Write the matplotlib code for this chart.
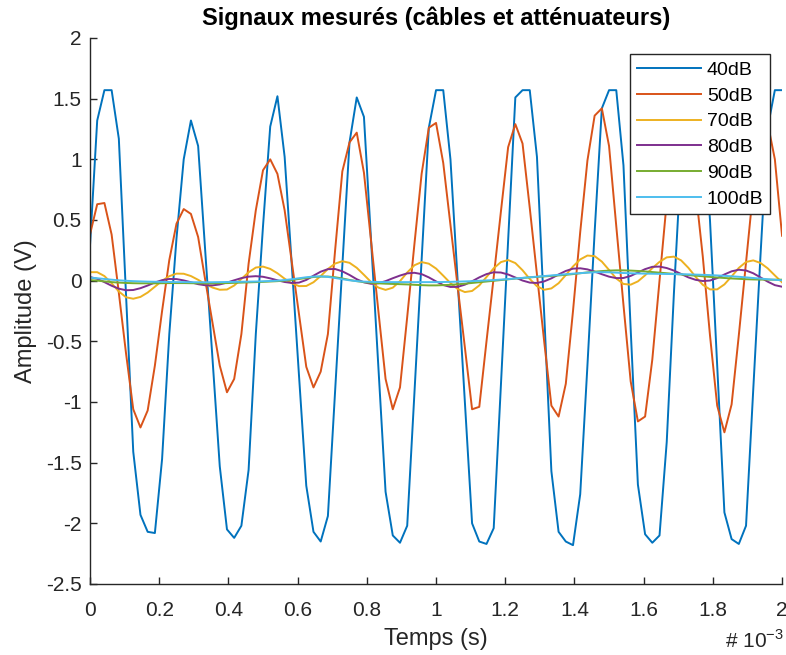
#!/usr/bin/env python3
"""
Signaux mesures a travers cables et attenuateurs (style MATLAB).
"""
import matplotlib
matplotlib.use("Agg")
import matplotlib.pyplot as plt
import numpy as np


FS = 48000  # frequence d'echantillonnage (Hz)

LABELS = ["40dB", "50dB", "70dB", "80dB", "90dB", "100dB"]
COLORS = ["#0072BD", "#D95319", "#EDB120", "#7E2F8E", "#77AC30", "#4DBEEE"]

amp_40db = [
    0.29, 1.32, 1.57, 1.57, 1.17, -0.12, -1.41, -1.93, -2.07, -2.08,
    -1.47, -0.44, 0.35, 1.00, 1.32, 1.11, 0.23, -0.65, -1.53, -2.05,
    -2.12, -2.02, -1.56, -0.44, 0.45, 1.27, 1.52, 1.02, 0.12, -0.79,
    -1.69, -2.07, -2.15, -1.94, -0.91, 0.12, 1.14, 1.51, 1.35, 0.32,
    -0.71, -1.74, -2.10, -2.16, -2.02, -0.93, 0.17, 1.26, 1.57, 1.57,
    1.00, 0.00, -1.00, -2.00, -2.15, -2.17, -2.04, -0.86, 0.33, 1.51,
    1.57, 1.57, 1.02, -0.27, -1.57, -2.07, -2.15, -2.18, -1.76, -0.70,
    0.40, 1.42, 1.57, 1.57, 0.95, -0.40, -1.68, -2.09, -2.16, -2.10,
    -1.33, -0.10, 1.00, 1.57, 1.57, 1.35, 0.50, -0.70, -1.91, -2.13,
    -2.17, -2.02, -0.90, 0.20, 1.26, 1.57, 1.57,
]
amp_50db = [
    0.38, 0.63, 0.64, 0.38, -0.10, -0.60, -1.06, -1.21, -1.07, -0.70,
    -0.25, 0.17, 0.47, 0.59, 0.55, 0.36, 0.00, -0.35, -0.70, -0.92,
    -0.81, -0.44, 0.14, 0.58, 0.91, 1.00, 0.88, 0.58, 0.15, -0.28,
    -0.71, -0.88, -0.75, -0.44, 0.25, 0.90, 1.14, 1.22, 0.89, 0.32,
    -0.25, -0.81, -1.06, -0.88, -0.30, 0.30, 0.88, 1.26, 1.30, 0.97,
    0.46, -0.05, -0.55, -1.06, -1.04, -0.50, 0.03, 0.57, 1.10, 1.29,
    1.13, 0.60, 0.05, -0.50, -1.03, -1.12, -0.85, -0.25, 0.40, 0.99,
    1.36, 1.42, 1.11, 0.45, -0.20, -0.83, -1.16, -1.12, -0.65, 0.00,
    0.65, 1.10, 1.25, 1.15, 0.75, 0.20, -0.45, -1.03, -1.25, -1.02,
    -0.45, 0.15, 0.75, 1.20, 1.30, 1.00, 0.37,
]
amp_70db = [
    0.070, 0.070, 0.038, -0.022, -0.089, -0.137, -0.149, -0.134, -0.098, -0.050,
    -0.001, 0.037, 0.058, 0.057, 0.038, 0.007, -0.028, -0.057, -0.075, -0.073,
    -0.040, 0.014, 0.069, 0.108, 0.116, 0.097, 0.061, 0.016, -0.022, -0.045,
    -0.044, -0.013, 0.038, 0.096, 0.141, 0.160, 0.147, 0.106, 0.048, -0.012,
    -0.057, -0.076, -0.058, -0.004, 0.067, 0.127, 0.153, 0.140, 0.100, 0.041,
    -0.020, -0.069, -0.094, -0.085, -0.039, 0.030, 0.102, 0.153, 0.170, 0.145,
    0.086, 0.014, -0.046, -0.075, -0.064, -0.021, 0.046, 0.117, 0.175, 0.207,
    0.202, 0.157, 0.088, 0.018, -0.027, -0.033, -0.006, 0.044, 0.103, 0.155,
    0.192, 0.198, 0.167, 0.106, 0.032, -0.034, -0.072, -0.072, -0.031, 0.035,
    0.105, 0.154, 0.167, 0.146, 0.102, 0.043, -0.014,
]
amp_80db = [
    0.030, 0.015, -0.012, -0.042, -0.066, -0.079, -0.077, -0.062, -0.040, -0.015,
    0.004, 0.014, 0.013, 0.002, -0.013, -0.029, -0.038, -0.039, -0.031, -0.016,
    0.003, 0.021, 0.033, 0.037, 0.032, 0.019, 0.003, -0.011, -0.019, -0.016,
    0.006, 0.041, 0.074, 0.095, 0.096, 0.077, 0.047, 0.012, -0.014, -0.026,
    -0.021, -0.004, 0.020, 0.042, 0.060, 0.065, 0.054, 0.027, -0.006, -0.036,
    -0.052, -0.051, -0.033, -0.005, 0.027, 0.054, 0.069, 0.067, 0.051, 0.026,
    0.001, -0.016, -0.019, -0.006, 0.019, 0.051, 0.080, 0.099, 0.102, 0.093,
    0.075, 0.053, 0.033, 0.021, 0.022, 0.039, 0.067, 0.095, 0.114, 0.116,
    0.104, 0.083, 0.055, 0.027, 0.007, -0.003, 0.001, 0.021, 0.051, 0.077,
    0.090, 0.084, 0.061, 0.027, -0.008, -0.037, -0.050,
]
amp_90db = [
    0.005, 0.000, -0.006, -0.012, -0.016, -0.019, -0.021, -0.022, -0.022, -0.022,
    -0.021, -0.020, -0.020, -0.020, -0.021, -0.022, -0.022, -0.022, -0.021, -0.020,
    -0.018, -0.016, -0.014, -0.012, -0.010, -0.007, -0.004, 0.000, 0.006, 0.014,
    0.022, 0.030, 0.034, 0.034, 0.028, 0.018, 0.006, -0.004, -0.012, -0.018,
    -0.022, -0.025, -0.027, -0.029, -0.031, -0.034, -0.037, -0.039, -0.039, -0.037,
    -0.034, -0.030, -0.025, -0.019, -0.013, -0.007, -0.001, 0.005, 0.011, 0.017,
    0.022, 0.027, 0.031, 0.035, 0.039, 0.043, 0.048, 0.054, 0.061, 0.068,
    0.074, 0.079, 0.083, 0.085, 0.085, 0.083, 0.080, 0.076, 0.071, 0.066,
    0.061, 0.056, 0.051, 0.046, 0.041, 0.036, 0.031, 0.026, 0.022, 0.018,
    0.015, 0.012, 0.010, 0.009, 0.008, 0.008, 0.008,
]
amp_100db = [
    0.025, 0.020, 0.014, 0.008, 0.003, -0.001, -0.004, -0.006, -0.008, -0.009,
    -0.010, -0.011, -0.012, -0.012, -0.013, -0.013, -0.013, -0.013, -0.012, -0.011,
    -0.010, -0.009, -0.008, -0.007, -0.005, -0.003, 0.000, 0.005, 0.012, 0.020,
    0.028, 0.034, 0.035, 0.031, 0.022, 0.012, 0.003, -0.004, -0.008, -0.010,
    -0.011, -0.012, -0.012, -0.012, -0.012, -0.012, -0.012, -0.012, -0.012, -0.011,
    -0.010, -0.008, -0.006, -0.004, -0.001, 0.002, 0.005, 0.009, 0.013, 0.018,
    0.023, 0.028, 0.033, 0.038, 0.043, 0.048, 0.053, 0.058, 0.062, 0.066,
    0.069, 0.070, 0.069, 0.066, 0.063, 0.061, 0.059, 0.058, 0.057, 0.056,
    0.055, 0.054, 0.053, 0.052, 0.050, 0.048, 0.046, 0.043, 0.040, 0.036,
    0.032, 0.027, 0.022, 0.017, 0.012, 0.007, 0.003,
]

X_TICKS_MS = [0, 0.2, 0.4, 0.6, 0.8, 1, 1.2, 1.4, 1.6, 1.8, 2]
X_TICK_LABELS = ["0", "0.2", "0.4", "0.6", "0.8", "1", "1.2", "1.4", "1.6", "1.8", "2"]
Y_TICKS = [-2.5, -2, -1.5, -1, -0.5, 0, 0.5, 1, 1.5, 2]
Y_TICK_LABELS = ["-2.5", "-2", "-1.5", "-1", "-0.5", "0", "0.5", "1", "1.5", "2"]

AXIS_COLOR = "#262626"


def main() -> None:
    plt.rcParams["font.family"] = ["Liberation Sans", "DejaVu Sans"]
    plt.rcParams["axes.unicode_minus"] = False

    fig = plt.figure(figsize=(7.86, 6.55), dpi=100)
    ax = fig.add_axes([0.1145, 0.1084, 0.8805, 0.8336])

    series = [amp_40db, amp_50db, amp_70db, amp_80db, amp_90db, amp_100db]
    t = np.arange(len(amp_40db)) / FS
    for values, label, color in zip(series, LABELS, COLORS):
        ax.plot(t, values, color=color, linewidth=1.4, label=label)

    ax.set_xlim(0, 2e-3)
    ax.set_ylim(-2.5, 2)
    ax.set_xticks([v * 1e-3 for v in X_TICKS_MS])
    ax.set_xticklabels(X_TICK_LABELS)
    ax.set_yticks(Y_TICKS)
    ax.set_yticklabels(Y_TICK_LABELS)

    for side in ("top", "right"):
        ax.spines[side].set_visible(False)
    for side in ("left", "bottom"):
        ax.spines[side].set_color(AXIS_COLOR)
        ax.spines[side].set_linewidth(1.0)
    ax.tick_params(axis="both", direction="in", length=5, width=1.0,
                   colors=AXIS_COLOR, labelsize=15)
    ax.tick_params(axis="x", pad=12)
    ax.tick_params(axis="y", pad=6)

    ax.set_xlabel("Temps (s)", fontsize=17, color=AXIS_COLOR, labelpad=6)
    ax.set_ylabel("Amplitude (V)", fontsize=17, color=AXIS_COLOR, labelpad=6)
    ax.set_title("Signaux mesurés (câbles et atténuateurs)", fontsize=17,
                 fontweight="bold", color="black", pad=9)

    fig.text(0.997, 1 - 640 / 655, r"# 10$^{\mathregular{-3}}$", ha="right",
             va="center", fontsize=15, color=AXIS_COLOR)

    leg = ax.legend(loc="upper right", bbox_to_anchor=(0.983, 0.97),
                    borderaxespad=0, fontsize=14, handlelength=3.3,
                    handletextpad=0.3, labelspacing=0.42, borderpad=0.35,
                    fancybox=False, framealpha=1, edgecolor=AXIS_COLOR)
    leg.get_frame().set_linewidth(1.0)

    fig.savefig("out.png", dpi=100)
    plt.close(fig)


if __name__ == "__main__":
    main()
